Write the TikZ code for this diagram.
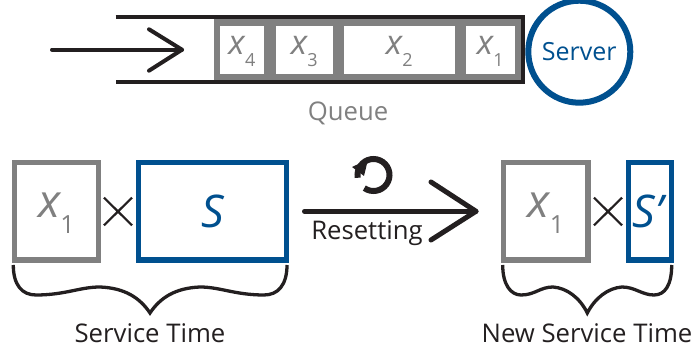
\documentclass[tikz,border=0pt]{standalone}
\usepackage{fontspec}
\setmainfont{Open Sans}
\usetikzlibrary{positioning,calc}
\definecolor{qgray}{HTML}{808080}
\definecolor{qblue}{HTML}{00508F}
\definecolor{qblack}{HTML}{231F20}
\tikzset{
  cellbox/.style={fill=white,draw=none,minimum width=#1,minimum height=48pt,inner sep=0pt,text=qgray,font=\fontsize{34}{34}\selectfont},
  graybox/.style={draw=qgray,line width=5.4pt,fill=white,minimum height=97.3pt,inner sep=0pt,text=qgray,minimum width=#1,font=\fontsize{46}{46}\selectfont},
  bluebox/.style={draw=qblue,line width=5.4pt,fill=white,minimum height=97.3pt,inner sep=0pt,text=qblue,minimum width=#1,font=\fontsize{45}{45}\selectfont},
  caption/.style={font=\fontsize{25.7}{28}\selectfont,text=qblack,inner sep=0pt,anchor=base},
  bigarrow/.style={qblack,line width=#1,line cap=round,line join=round},
  timesmark/.style={qblack,line width=2.2pt},
  curly/.style={qblack,line width=3.3pt},
}
\newcommand{\varx}[1]{\raisebox{-5.3pt}[0pt][0pt]{\textit{x}\kern-0.5pt\raisebox{-11.5pt}{\fontsize{18}{18}\selectfont #1}}}
\newcommand{\varX}[1]{\raisebox{-6.65pt}[0pt][0pt]{\textit{x}\kern-1pt\raisebox{-15.5pt}{\fontsize{25}{25}\selectfont #1}}}
\newcommand{\varS}[1]{\raisebox{-16pt}[0pt][0pt]{\textit{#1}}}
\begin{document}
\begin{tikzpicture}[x=1pt,y=-1pt]
\useasboundingbox (0,0) rectangle (694,352);
% queue
\fill[qgray] (213.5,19) rectangle (521,80);
\node[cellbox=44.3pt] (x4) at (241.9,49.7) {\varx{4}};
\node[cellbox=57.3pt] (x3) at (304.3,49.7) {\varx{3}};
\node[cellbox=110.7pt] (x2) at (399.3,49.7) {\varx{2}};
\node[cellbox=48.7pt] (x1) at (490.3,49.7) {\varx{1}};
\draw[qblack,line width=4.2pt] (115.7,17) -- (523,17) -- (523,82) -- (115.7,82);
\node[circle,draw=qblue,line width=6pt,minimum size=102pt,inner sep=0pt,text=qblue,font=\fontsize{25}{28}\selectfont] (server) at (579.3,51.7) {\raisebox{-9.3pt}[0pt][0pt]{Server}};
\node[caption,text=qgray] (queue) at (348,121) {Queue};
\coordinate (inA) at (52,49.7);
\coordinate (inT) at (182,49.7);
\draw[bigarrow=4pt] (inA) -- (inT);
\draw[bigarrow=4pt] (149,29.3) -- (inT) -- (149,70.7);
% left group
\node[graybox=83.9pt] (lx) at (56.3,211.35) {\varX{1}};
\node[bluebox=148.2pt] (ls) at (212.5,211.35) {\kern2pt\varS{S}};
\draw[timesmark] (104,197.7) -- (132,225.3) (132,197.7) -- (104,225.3);
\draw[curly] (13.3,265) .. controls (13.3,285) and (22,295) .. (36,295)
  .. controls (65,295) and (80,287) .. (100,287)
  .. controls (125,288) and (140,298) .. (150,313)
  .. controls (160,298) and (175,288) .. (200,287)
  .. controls (220,287) and (235,295) .. (264,295)
  .. controls (278,295) and (287,285) .. (287,265);
\node[caption] (lcap) at (150,342.5) {Service Time};
% middle arrow
\coordinate (mA) at (304.5,211.3);
\coordinate (mT) at (476,211.3);
\draw[bigarrow=5pt] (mA) -- (mT);
\draw[bigarrow=5pt] (431,182) -- (mT) -- (431,240);
\node[caption] (reset) at (367,239.3) {Resetting};
\draw[qblack,line width=6pt] (373.5,175) ++(125:16) arc[start angle=125,end angle=-190,radius=16];
\fill[qblack] (352,167) -- (368,159.5) -- (364,176) -- cycle;
% right group
\node[graybox=84.3pt] (rx) at (545.85,211.35) {\varX{1}};
\node[bluebox=43.2pt] (rs) at (650,211.35) {\varS{S’}};
\draw[timesmark] (594,197.7) -- (622,225.3) (622,197.7) -- (594,225.3);
\draw[curly] (502.7,265) .. controls (502.7,285) and (511,295) .. (521,295)
  .. controls (535,295) and (540,287) .. (553,287)
  .. controls (567,288) and (580,298) .. (587.3,313)
  .. controls (595,298) and (608,288) .. (622,287)
  .. controls (635,287) and (642,295) .. (654,295)
  .. controls (665,295) and (671.7,285) .. (671.7,265);
\node[caption] (rcap) at (587,342.5) {New Service Time};
\end{tikzpicture}
\end{document}
